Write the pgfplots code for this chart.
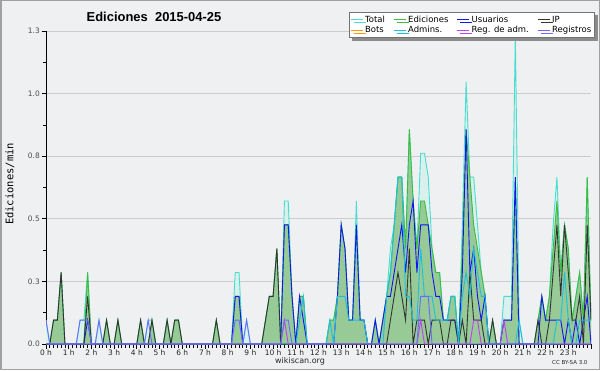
\documentclass[border=0pt]{standalone}
\usepackage{pgfplots}
\pgfplotsset{compat=1.18}
\usepackage{pgfplotstable}
\usepackage{fontspec}
\setmainfont{DejaVu Sans}
\newfontfamily\titlef{Liberation Sans}
\newfontfamily\monof{DejaVu Sans Mono}
\usetikzlibrary{shadows}
\definecolor{bgc}{HTML}{EFF0F1}
\definecolor{bordc}{HTML}{A0A0A0}
\definecolor{TotLine}{HTML}{48DDD0}
\definecolor{TotFill}{HTML}{D8F1EC}
\definecolor{EdLine}{HTML}{3DBB3D}
\definecolor{EdFill}{HTML}{97CA97}
\definecolor{UsLine}{HTML}{1414F0}
\definecolor{IPLine}{HTML}{333333}
\definecolor{BotLine}{HTML}{FF9900}
\definecolor{AdmLine}{HTML}{1EBEDD}
\definecolor{RegAdmLine}{HTML}{C040F0}
\definecolor{RegLine}{HTML}{6A6AFF}

% m = minutes since 0 h; values = edits per 10-min slot
\pgfplotstableread{
m T E U P A M R
0 1 0 0 0 0 0 1
10 0 0 0 0 0 0 0
20 1 1 0 1 0 0 0
30 1 1 0 1 0 0 0
40 3 3 0 3 0 0 0
50 0 0 0 0 0 0 0
60 0 0 0 0 0 0 0
70 0 0 0 0 0 0 0
80 0 0 0 0 0 0 0
90 1 0 0 0 0 0 1
100 1 0 0 0 0 0 1
110 3 3 1 2 0 0 1
120 0 0 0 0 0 0 0
130 0 0 0 0 0 0 0
140 1 0 0 0 0 0 1
150 0 0 0 0 0 0 0
160 1 1 0 1 0 0 0
170 0 0 0 0 0 0 0
180 0 0 0 0 0 0 0
190 1 1 0 1 0 0 0
200 0 0 0 0 0 0 0
210 0 0 0 0 0 0 0
220 0 0 0 0 0 0 0
230 0 0 0 0 0 0 0
240 0 0 0 0 0 0 0
250 1 1 0 1 0 0 0
260 0 0 0 0 0 0 0
270 1 0 0 0 0 0 1
280 1 1 0 1 0 0 0
290 0 0 0 0 0 0 0
300 0 0 0 0 0 0 0
310 0 0 0 0 0 0 0
320 1 1 0 1 0 0 0
330 0 0 0 0 0 0 0
340 1 1 0 1 0 0 0
350 1 1 0 1 0 0 0
360 0 0 0 0 0 0 0
370 0 0 0 0 0 0 0
380 0 0 0 0 0 0 0
390 0 0 0 0 0 0 0
400 0 0 0 0 0 0 0
410 0 0 0 0 0 0 0
420 0 0 0 0 0 0 0
430 0 0 0 0 0 0 0
440 0 0 0 0 0 0 0
450 1 1 0 1 0 0 0
460 0 0 0 0 0 0 0
470 0 0 0 0 0 0 0
480 0 0 0 0 0 0 0
490 0 0 0 0 0 0 0
500 3 2 2 0 0 0 1
510 3 2 2 0 0 0 1
520 0 0 0 0 0 0 0
530 1 0 0 0 0 0 1
540 0 0 0 0 0 0 0
550 0 0 0 0 0 0 0
560 0 0 0 0 0 0 0
570 0 0 0 0 0 0 0
580 1 1 0 1 0 0 0
590 2 2 0 2 0 0 0
600 2 2 0 2 0 0 0
610 4 4 0 4 0 0 0
620 0 0 0 0 0 0 0
630 6 5 5 0 0 1 1
640 6 5 5 0 0 0 1
650 2 2 2 0 0 0 0
660 0 0 0 0 0 0 0
670 2 2 2 0 1 0 0
680 2 2 1 0 2 0 0
690 0 0 0 0 0 0 0
700 0 0 0 0 0 0 0
710 0 0 0 0 0 0 0
720 0 0 0 0 0 0 0
730 0 0 0 0 0 0 0
740 0 0 0 0 0 0 0
750 1 1 0 0 1 0 0
760 1 1 0 0 0 0 0
770 2 2 2 0 2 0 0
780 5 5 5 0 2 0 0
790 4 4 4 0 2 0 0
800 1 1 1 0 1 0 0
810 1 1 1 0 1 0 0
820 6 5 5 0 1 0 0
830 1 1 1 0 1 0 0
840 1 1 1 0 1 0 0
850 0 0 0 0 0 0 0
860 0 0 0 0 0 0 0
870 1 1 1 0 0 0 0
880 0 0 0 0 0 0 0
890 1 1 1 0 0 0 0
900 2 2 2 0 2 0 0
910 4 3 2 1 3 0 0
920 5 5 3 2 5 0 0
930 7 7 4 3 7 0 0
940 7 7 5 2 7 0 0
950 4 4 3 1 2 0 0
960 9 9 5 4 2 0 0
970 6 6 6 0 1 0 0
980 4 4 3 1 1 0 0
990 8 6 5 1 4 1 2
1000 8 6 5 1 2 0 2
1010 7 5 5 0 2 0 2
1020 4 4 3 1 2 0 0
1030 3 3 2 1 1 0 0
1040 3 3 2 1 1 0 0
1050 1 1 1 0 1 0 0
1060 1 1 1 0 1 0 0
1070 2 2 1 1 2 0 0
1080 2 2 1 1 2 0 0
1090 0 0 0 0 0 0 0
1100 5 4 3 1 2 0 0
1110 11 9 9 0 3 0 0
1120 7 7 3 3 2 0 0
1130 7 5 4 1 4 1 0
1140 5 4 2 1 3 1 0
1150 3 3 1 1 2 0 0
1160 2 2 2 0 2 0 0
1170 0 0 0 0 0 0 0
1180 1 1 0 1 0 0 0
1190 0 0 0 0 0 0 0
1200 0 0 0 0 0 0 0
1210 2 1 1 0 0 1 0
1220 2 1 1 0 0 0 0
1230 2 1 1 0 0 0 0
1240 13 7 7 0 0 0 0
1250 1 0 0 0 1 0 0
1260 0 0 0 0 0 0 0
1270 0 0 0 0 0 0 0
1280 0 0 0 0 0 0 0
1290 0 0 0 0 0 0 0
1300 1 1 0 1 0 0 0
1310 2 2 2 0 0 0 0
1320 1 1 1 0 0 0 0
1330 2 2 1 1 0 0 0
1340 5 4 1 3 0 0 0
1350 7 6 1 5 1 0 0
1360 3 3 1 2 1 0 0
1370 5 5 0 5 3 0 0
1380 4 4 1 3 1 0 0
1390 1 1 0 1 0 0 0
1400 2 2 1 1 0 0 0
1410 3 3 0 2 1 0 0
1420 1 1 1 0 1 0 0
1430 7 7 2 5 1 0 0
1440 1 1 0 1 1 0 0
}\data

\begin{document}
\begin{tikzpicture}[x=1bp,y=1bp]
\fill[bgc] (0,0) rectangle (600,370);
\draw[bordc, line width=1.5bp] (0.75,0.75) rectangle (599.25,369.25);
\node[font=\titlef\bfseries\fontsize{13}{15}\selectfont] at (154,353) {Ediciones\ \ 2015-04-25};
\node[rotate=90, font=\monof\fontsize{10.5}{12}\selectfont] at (10,186) {Ediciones/min};
\node[font=\fontsize{8}{9}\selectfont, text=black!85] at (300,9) {wikiscan.org};
\node[font=\fontsize{5.5}{6}\selectfont, anchor=east, text=black!85] at (591,8) {CC BY-SA 3.0};
\begin{axis}[
  at={(46bp,26bp)}, anchor=south west,
  scale only axis, width=545bp, height=313bp,
  xmin=0, xmax=1440, ymin=0, ymax=1.25,
  axis x line*=bottom, axis y line*=left,
  axis line style={black, line width=0.8bp},
  xtick={0,60,...,1440},
  xticklabels={0 h,1 h,2 h,3 h,4 h,5 h,6 h,7 h,8 h,9 h,10 h,11 h,12 h,13 h,14 h,15 h,16 h,17 h,18 h,19 h,20 h,21 h,22 h,23 h,{}},
  minor x tick num=5,
  ytick={0,0.25,0.5,0.75,1,1.25},
  yticklabels={0.0,0.3,0.5,0.8,1.0,1.3},
  minor y tick num=1,
  tick align=outside,
  major tick length=4.5bp, minor tick length=3.5bp,
  tick style={black, line width=0.7bp},
  xticklabel style={font=\fontsize{7.5}{8}\selectfont, text=black!85, inner sep=1.5bp},
  yticklabel style={font=\fontsize{7.5}{8}\selectfont, text=black!70, inner sep=1.5bp},
  ymajorgrids,
  grid style={draw=black!20, line width=0.8bp},
  y filter/.expression={y*0.0952},
  legend columns=4,
  legend cell align=left,
  legend style={at={(1,1)}, anchor=north east, xshift=4bp, yshift=19bp,
    draw=black!55, fill=white, line width=0.6bp,
    font=\fontsize{8.5}{9}\selectfont, inner sep=1.5bp, row sep=-1.5bp,
    /tikz/every even column/.append style={column sep=6.5bp},
    drop shadow={shadow xshift=3bp, shadow yshift=-3bp, fill=black!45, opacity=1}},
  legend image code/.code={\draw[#1, line width=0.8bp] (0bp,0bp) -- (12bp,0bp);},
]
\addlegendimage{TotLine}\addlegendentry{Total}
\addlegendimage{EdLine}\addlegendentry{Ediciones}
\addlegendimage{UsLine}\addlegendentry{Usuarios}
\addlegendimage{IPLine}\addlegendentry{IP}
\addlegendimage{BotLine}\addlegendentry{Bots}
\addlegendimage{AdmLine}\addlegendentry{Admins.}
\addlegendimage{RegAdmLine}\addlegendentry{Reg. de adm.}
\addlegendimage{RegLine}\addlegendentry{Registros}

\addplot[fill=TotFill, draw=none, forget plot] table[x=m, y=T]{\data} \closedcycle;
\addplot[fill=EdFill, draw=none, forget plot] table[x=m, y=E]{\data} \closedcycle;
\addplot[TotLine, line width=0.9bp, forget plot] table[x=m, y=T]{\data};
\addplot[EdLine, line width=0.9bp, forget plot] table[x=m, y=E]{\data};
\addplot[UsLine, line width=0.9bp, forget plot] table[x=m, y=U]{\data};
\addplot[IPLine, line width=0.9bp, forget plot] table[x=m, y=P]{\data};
\addplot[AdmLine, line width=0.9bp, forget plot] table[x=m, y=A]{\data};
\addplot[RegAdmLine, line width=0.9bp, forget plot] table[x=m, y=M]{\data};
\addplot[RegLine, line width=0.9bp, forget plot] table[x=m, y=R]{\data};
\end{axis}
\pgfresetboundingbox
\path (0,0) rectangle (600,370);
\end{tikzpicture}
\end{document}
